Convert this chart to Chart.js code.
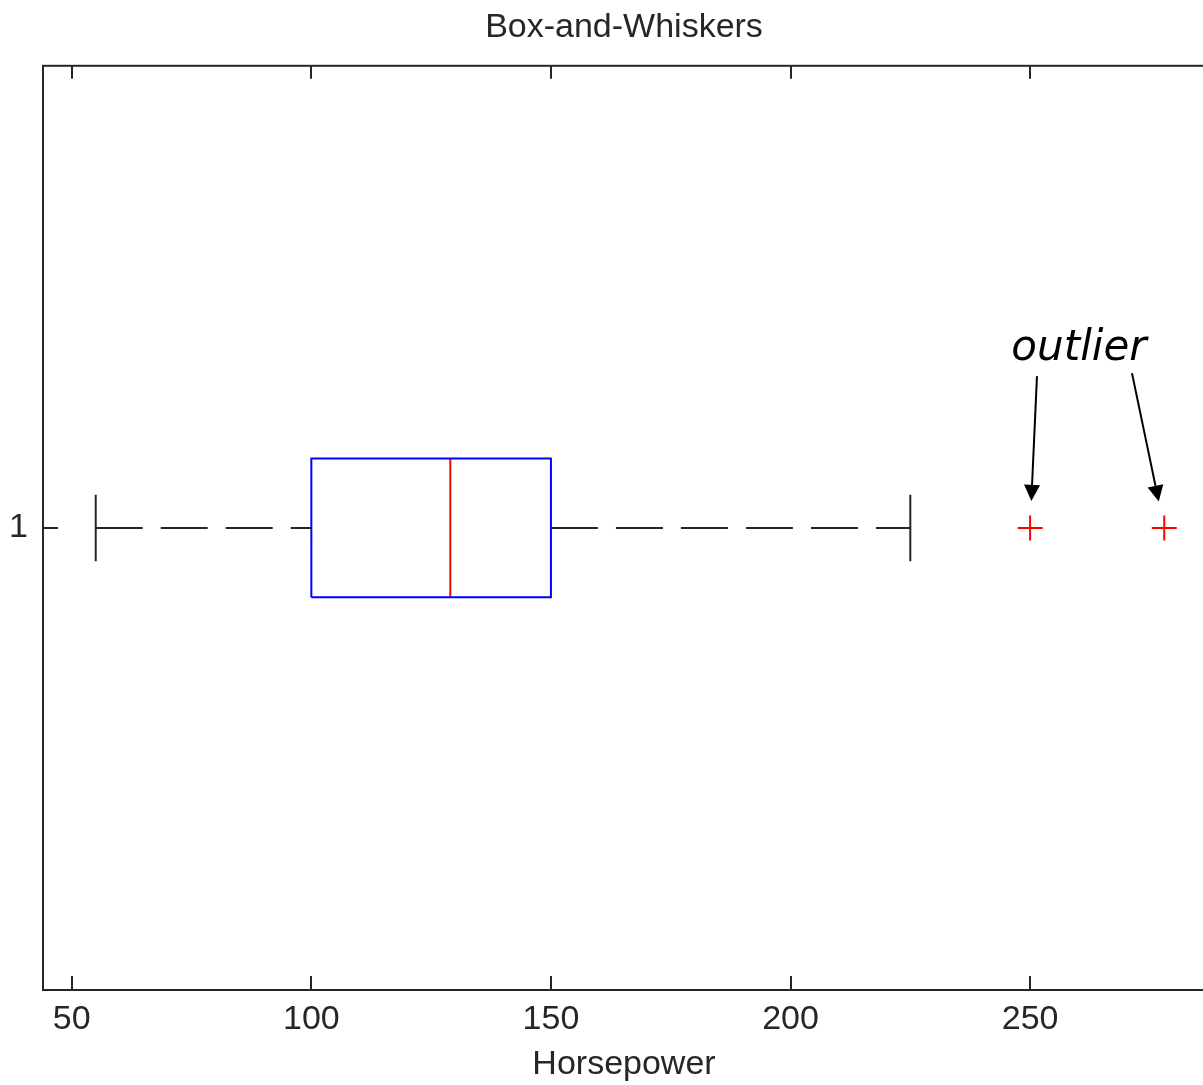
<!DOCTYPE html>
<html>
<head>
<meta charset="utf-8">
<title>Box-and-Whiskers</title>
<script src="https://cdn.jsdelivr.net/npm/chart.js@4.4.1/dist/chart.umd.min.js"></script>
<style>
    html, body { margin: 0; padding: 0; background: #fff; overflow: hidden; }
    #wrap { width: 1203px; height: 1085px; overflow: hidden; }
</style>
</head>
<body>
<div id="wrap"><canvas id="boxChart" width="1205" height="1085"></canvas></div>
<script>
// five-number summary per group, plus the points flagged as outliers
var groupLabels = ["1"];
var whiskerLow = [55];
var quartile1 = [100];
var medians = [129];
var quartile3 = [150];
var whiskerHigh = [225];
var outliers = [250, 278];
var xTickValues = [50, 100, 150, 200, 250];

var INK = '#262626';
var TEXT_FONT = 'Liberation Sans, Arial, sans-serif';
var BOX_HALF = 0.075;   // half box height, in y units
var CAP_HALF = 0.036;   // half whisker cap height

function lineSet(points, color, dash) {
    return {
        type: 'scatter',
        showLine: true,
        data: points.map(p => ({ x: p[0], y: p[1] })),
        borderColor: color,
        borderWidth: 2,
        borderDash: dash || [],
        pointRadius: 0,
        pointHoverRadius: 0,
        fill: false,
        tension: 0
    };
}

var datasets = [];
groupLabels.forEach(function (label, i) {
    var y = i + 1;
    // dashed whiskers
    datasets.push(lineSet([[whiskerLow[i], y], [quartile1[i], y]], INK, [47, 18]));
    datasets.push(lineSet([[quartile3[i], y], [whiskerHigh[i], y]], INK, [47, 18]));
    // end caps
    datasets.push(lineSet([[whiskerLow[i], y - CAP_HALF], [whiskerLow[i], y + CAP_HALF]], INK));
    datasets.push(lineSet([[whiskerHigh[i], y - CAP_HALF], [whiskerHigh[i], y + CAP_HALF]], INK));
    // box
    datasets.push(lineSet([
        [quartile1[i], y - BOX_HALF], [quartile3[i], y - BOX_HALF],
        [quartile3[i], y + BOX_HALF], [quartile1[i], y + BOX_HALF],
        [quartile1[i], y - BOX_HALF]
    ], '#0000ff'));
    // median
    datasets.push(lineSet([[medians[i], y - BOX_HALF], [medians[i], y + BOX_HALF]], '#ff0000'));
});

datasets.push({
    type: 'scatter',
    data: outliers.map(v => ({ x: v, y: 1 })),
    pointStyle: 'cross',
    pointRadius: 12.5,
    pointHoverRadius: 12.5,
    borderColor: '#ff0000',
    backgroundColor: '#ff0000',
    borderWidth: 2
});

// axes box with inward ticks on top, bottom and left
var frameTicks = {
    id: 'frameTicks',
    afterDatasetsDraw(chart) {
        const { ctx, chartArea: a, scales: { x, y } } = chart;
        ctx.save();
        ctx.strokeStyle = INK;
        ctx.lineWidth = 2;
        ctx.strokeRect(a.left, a.top, a.right - a.left, a.bottom - a.top);
        ctx.beginPath();
        x.ticks.forEach(t => {
            const px = Math.round(x.getPixelForValue(t.value));
            ctx.moveTo(px, a.bottom);
            ctx.lineTo(px, a.bottom - 14);
            ctx.moveTo(px, a.top);
            ctx.lineTo(px, a.top + 13);
        });
        y.ticks.forEach(t => {
            const py = Math.round(y.getPixelForValue(t.value));
            ctx.moveTo(a.left, py);
            ctx.lineTo(a.left + 15, py);
        });
        ctx.stroke();
        ctx.restore();
    }
};

// "outlier" note with an arrow pointing at each outlier
var outlierNote = {
    id: 'outlierNote',
    afterDraw(chart, args, opts) {
        const { ctx, scales: { x, y } } = chart;
        const tx = x.getPixelForValue(opts.at.x);
        const ty = y.getPixelForValue(opts.at.y);
        ctx.save();
        ctx.fillStyle = '#000';
        ctx.strokeStyle = '#000';
        ctx.font = 'oblique 42px "DejaVu Sans"';
        ctx.textAlign = 'center';
        ctx.textBaseline = 'alphabetic';
        ctx.fillText(opts.text, tx, ty);

        outliers.forEach(function (v, k) {
            const tail = opts.tails[k];
            const sx = tx + tail[0], sy = ty + tail[1];
            const ox = x.getPixelForValue(v), oy = y.getPixelForValue(1);
            const dx = ox - sx, dy = oy - sy;
            const len = Math.sqrt(dx * dx + dy * dy);
            const ux = dx / len, uy = dy / len;
            const tipX = ox - ux * opts.gap, tipY = oy - uy * opts.gap;
            const baseX = tipX - ux * 16, baseY = tipY - uy * 16;
            ctx.lineWidth = 2;
            ctx.beginPath();
            ctx.moveTo(sx, sy);
            ctx.lineTo(baseX, baseY);
            ctx.stroke();
            ctx.beginPath();
            ctx.moveTo(tipX, tipY);
            ctx.lineTo(baseX - uy * 8, baseY + ux * 8);
            ctx.lineTo(baseX + uy * 8, baseY - ux * 8);
            ctx.closePath();
            ctx.fill();
        });
        ctx.restore();
    }
};

new Chart(document.getElementById('boxChart').getContext('2d'), {
    type: 'scatter',
    data: { datasets: datasets },
    plugins: [frameTicks, outlierNote],
    options: {
        responsive: false,
        animation: false,
        devicePixelRatio: 1,
        layout: { padding: 0, autoPadding: false },
        plugins: {
            legend: { display: false },
            tooltip: { enabled: false },
            title: {
                display: true,
                text: 'Box-and-Whiskers',
                fullSize: false,
                color: INK,
                font: { family: TEXT_FONT, size: 34, weight: 'normal' },
                padding: { top: 7, bottom: 18 }
            },
            outlierNote: {
                text: 'outlier',
                at: { x: 260.2, y: 1.1815 },
                tails: [[-42, 16], [53, 13]],
                gap: 27
            }
        },
        scales: {
            x: {
                type: 'linear',
                min: 44,
                max: 286.5,
                afterBuildTicks: s => { s.ticks = xTickValues.map(v => ({ value: v })); },
                afterFit: s => { s.height = 95; },
                grid: { display: false, drawTicks: false },
                border: { display: false },
                ticks: {
                    color: INK,
                    padding: 9,
                    maxRotation: 0,
                    font: { family: TEXT_FONT, size: 34 }
                },
                title: {
                    display: true,
                    text: 'Horsepower',
                    color: INK,
                    font: { family: TEXT_FONT, size: 34 },
                    padding: { top: 0, bottom: 0 }
                }
            },
            y: {
                type: 'linear',
                min: 0.5,
                max: 1.5,
                afterBuildTicks: s => { s.ticks = groupLabels.map((g, i) => ({ value: i + 1 })); },
                afterFit: s => { s.width = 43; },
                grid: { display: false, drawTicks: false },
                border: { display: false },
                ticks: {
                    color: INK,
                    padding: 15,
                    callback: v => groupLabels[v - 1],
                    font: { family: TEXT_FONT, size: 34 }
                }
            }
        }
    }
});
</script>
</body>
</html>
